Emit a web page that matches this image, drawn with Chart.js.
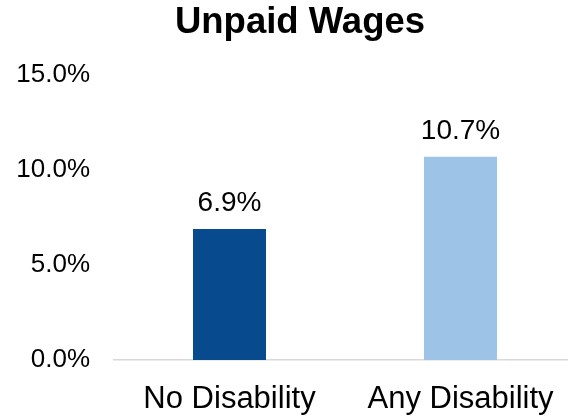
<!DOCTYPE html>
<html>
<head>
<meta charset="utf-8">
<script src="https://cdn.jsdelivr.net/npm/chart.js@4"></script>
<style>
  html, body { margin: 0; padding: 0; background: #fff; overflow: hidden; }
  #wrap { width: 568px; height: 416px; position: relative; overflow: hidden; }
  #c { position: absolute; left: 0; top: 0; }
</style>
</head>
<body>
<div id="wrap"><canvas id="c" width="576" height="416"></canvas></div>
<script>
const chartTitle = "Unpaid Wages";
const categories = ["No Disability", "Any Disability"];
const values = [6.9, 10.7];
const barColors = ["#074a8e", "#9dc3e6"];
const yTicks = [0, 5, 10, 15];

const FONT = "'Liberation Sans', Arial, sans-serif";

const titlePlugin = {
  id: 'customTitle',
  afterDraw(chart) {
    const ctx = chart.ctx;
    ctx.save();
    ctx.font = "bold 36.5px " + FONT;
    ctx.fillStyle = "#000";
    ctx.textAlign = "center";
    ctx.textBaseline = "alphabetic";
    ctx.fillText(chartTitle, 300, 33);
    ctx.restore();
  }
};

const valueLabels = {
  id: 'valueLabels',
  afterDatasetsDraw(chart) {
    const ctx = chart.ctx;
    const meta = chart.getDatasetMeta(0);
    ctx.save();
    ctx.font = "28px " + FONT;
    ctx.fillStyle = "#000";
    ctx.textAlign = "center";
    ctx.textBaseline = "alphabetic";
    meta.data.forEach((bar, i) => {
      ctx.fillText(values[i].toFixed(1) + "%", bar.x, bar.y - 18);
    });
    ctx.restore();
  }
};

new Chart(document.getElementById('c'), {
  type: 'bar',
  data: {
    labels: categories,
    datasets: [{
      data: values,
      backgroundColor: barColors,
      borderWidth: 0,
      categoryPercentage: 1,
      barPercentage: 0.316
    }]
  },
  options: {
    responsive: false,
    animation: false,
    devicePixelRatio: 1,
    layout: { padding: { top: 75, right: 0, left: 0, bottom: 0 } },
    plugins: {
      legend: { display: false },
      title: { display: false },
      tooltip: { enabled: false }
    },
    scales: {
      x: {
        afterFit(scale) { scale.height = 56; },
        grid: { display: false, drawTicks: false },
        border: { display: true, color: '#d9d9d9', width: 1.5 },
        ticks: { color: '#000', font: { family: FONT, size: 31 }, padding: 21, maxRotation: 0 }
      },
      y: {
        min: 0, max: 15,
        afterBuildTicks(scale) { scale.ticks = yTicks.map(v => ({ value: v })); },
        afterFit(scale) { scale.width = 114; },
        grid: { display: false, drawTicks: false },
        border: { display: false },
        ticks: {
          color: '#000',
          font: { family: FONT, size: 26 },
          padding: 24,
          callback: v => Number(v).toFixed(1) + '%'
        }
      }
    }
  },
  plugins: [titlePlugin, valueLabels]
});
</script>
</body>
</html>
